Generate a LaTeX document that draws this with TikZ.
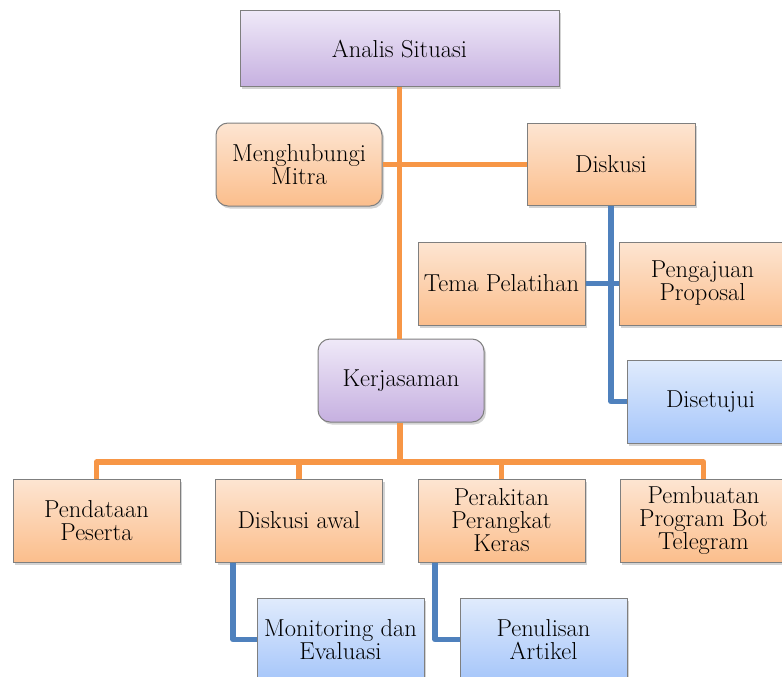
\documentclass[tikz,border=0pt]{standalone}
\usetikzlibrary{shadows}
\definecolor{obot}{HTML}{FBBE8C}
\definecolor{otop}{HTML}{FDE5D2}
\definecolor{btop}{HTML}{E0EBFC}
\definecolor{bbot}{HTML}{A6C6FA}
\definecolor{ptop}{HTML}{EFE9F8}
\definecolor{pbot}{HTML}{C6B0E0}
\definecolor{oline}{HTML}{F79646}
\definecolor{bline}{HTML}{4F81BD}
\definecolor{bord}{HTML}{7F7F7F}
\tikzset{
  box/.style={draw=bord, line width=1pt, minimum width=167pt, minimum height=83pt,
    align=center, inner sep=1pt, font=\fontsize{24.5}{23}\selectfont,
    drop shadow={shadow xshift=2pt, shadow yshift=-2.5pt, opacity=0.35}},
  obox/.style={box, top color=otop, bottom color=obot},
  bbox/.style={box, top color=btop, bottom color=bbot},
  pbox/.style={box, top color=ptop, bottom color=pbot},
  rnd/.style={rounded corners=12pt},
  oconn/.style={draw=oline, line width=5.5pt, line join=round},
  bconn/.style={draw=bline, line width=5.5pt, line join=round},
}
\begin{document}
\begin{tikzpicture}[x=1pt,y=-1pt]
\useasboundingbox (0,0) rectangle (782,677);
\clip (0,0) rectangle (782,677);
% nodes
\node[pbox, minimum width=319pt, minimum height=76pt] (ana) at (399.5,49) {Analis Situasi};
\node[obox, rnd, minimum width=166pt] (mit) at (299,164.5) {Menghubungi\\Mitra};
\node[obox, minimum width=168pt, minimum height=82pt] (dis) at (611,164.5) {Diskusi};
\node[obox] (tema) at (501.5,283.5) {Tema Pelatihan};
\node[obox] (peng) at (702.5,283.5) {Pengajuan\\Proposal};
\node[bbox] (set) at (710.5,401.5) {Disetujui};
\node[pbox, rnd, minimum width=166pt] (ker) at (401,380.5) {Kerjasaman};
\node[obox] (pd) at (96.5,520.5) {Pendataan\\Peserta};
\node[obox] (da) at (299,520.5) {Diskusi awal};
\node[obox] (pk) at (501.5,520.5) {Perakitan\\Perangkat\\Keras};
\node[obox] (pb) at (703.5,520.5) {Pembuatan\\Program Bot\\Telegram};
\node[bbox] (mon) at (340.5,639.5) {Monitoring dan\\Evaluasi};
\node[bbox] (pen) at (543.5,639.5) {Penulisan\\Artikel};
\coordinate (bus) at (400,462);
% connectors
\draw[oconn] (ana.south) -- (ana.south |- ker.north);
\draw[oconn] (mit.east) -- (dis.west);
\draw[oconn] (ker.south -| bus) -- (bus);
\draw[oconn] (pd.north) |- (pb.north |- bus) -- (pb.north);
\draw[oconn] (da.north) -- (da.north |- bus);
\draw[oconn] (pk.north) -- (pk.north |- bus);
\draw[bconn] (dis.south) |- (set.west);
\draw[bconn] (tema.east) -- (peng.west);
\draw[bconn] ([xshift=-66pt]da.south) |- (mon.west);
\draw[bconn] ([xshift=-66.5pt]pk.south) |- (pen.west);
\end{tikzpicture}
\end{document}
